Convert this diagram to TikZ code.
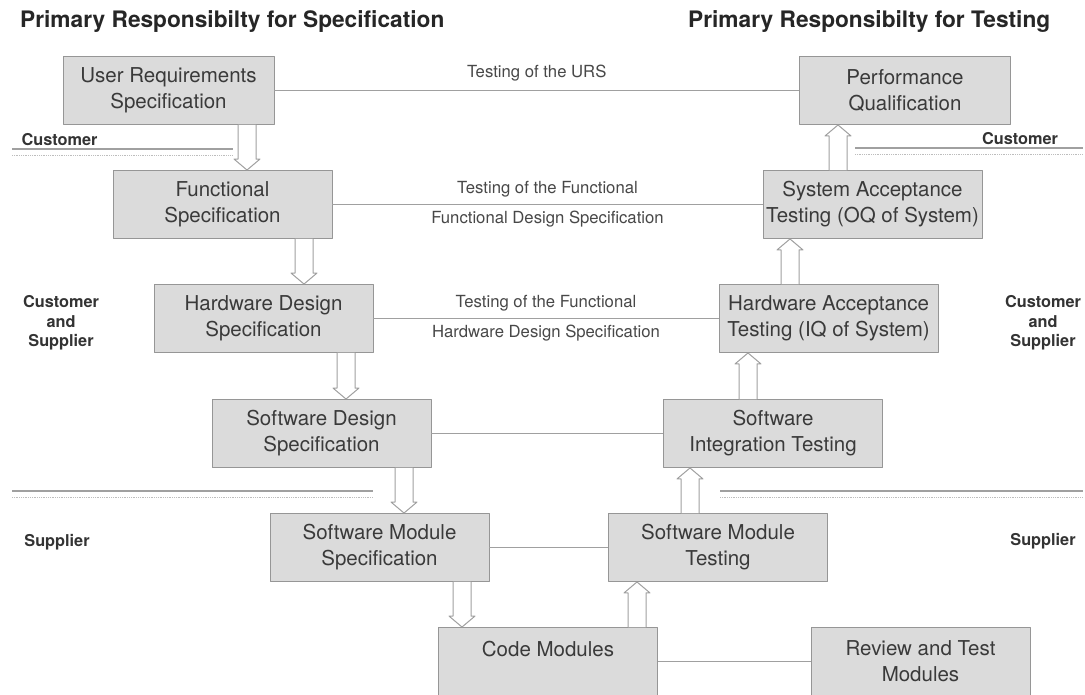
\documentclass[tikz,border=0pt]{standalone}
\usepackage{fontspec}
\setmainfont{TeX Gyre Heros}
\usetikzlibrary{calc}
\definecolor{boxfill}{RGB}{219,219,219}
\definecolor{boxline}{RGB}{150,150,150}
\definecolor{boxtext}{RGB}{58,58,58}
\definecolor{linegray}{RGB}{160,160,160}
\definecolor{lbltext}{RGB}{72,72,72}
% open double-shaft arrow: x position, base anchor, tip anchor
\newcommand{\hollowarrow}[3]{%
  \draw[hollow] let \p1=(#1,0 |- #2), \p2=(#1,0 |- #3), \n1={sign(\y1-\y2)*11} in
    (\x1-9pt,\y1) -- (\x1-9pt,{\y2+(\n1)*1pt}) -- (\x1-13pt,{\y2+(\n1)*1pt}) -- (\x2,\y2)
    -- (\x1+13pt,{\y2+(\n1)*1pt}) -- (\x1+9pt,{\y2+(\n1)*1pt}) -- (\x1+9pt,\y1);}
\begin{document}
\begin{tikzpicture}[x=1pt, y=-1pt, line join=round,
    box/.style={draw=boxline, line width=0.9pt, fill=boxfill, text=boxtext, align=center,
      minimum width=219pt, minimum height=68pt, inner sep=2pt, font=\fontsize{20.5}{26}\selectfont},
    conn/.style={draw=linegray, line width=1pt},
    hollow/.style={draw=linegray, line width=1pt, fill=white},
    lbl/.style={text=lbltext, font=\fontsize{16.7}{19}\selectfont},
    side/.style={text=black!80, align=center, inner sep=0pt, font=\bfseries\fontsize{16.3}{19.5}\selectfont},
    title/.style={anchor=west, inner sep=0pt, text=black!85, font=\bfseries\fontsize{22.7}{25}\selectfont},
    sep/.style={draw=linegray, line width=1.1pt}]
\path[use as bounding box, fill=white] (0,0) rectangle (1085,695);

% titles
\node[title] (ttlspec) at (20,22) {Primary Responsibilty for Specification};
\node[title] (ttltest) at (688,22) {Primary Responsibilty for Testing};

% specification side
\node[box, minimum width=211pt] (urs) at (168.5,90.5) {User Requirements\\Specification};
\node[box] (fs)  at (222.5,204.5) {Functional\\Specification};
\node[box] (hds) at (263.5,318.5) {Hardware Design\\Specification};
\node[box] (sds) at (321.5,433.5) {Software Design\\Specification};
\node[box] (sms) at (379.5,547.5) {Software Module\\Specification};
\node[box] (code) at (548,661.5) {Code Modules\\\mbox{}};

% testing side
\node[box, minimum width=211pt] (pq) at (905,90.5) {Performance\\Qualification};
\node[box] (sat) at (872.5,204.5) {System Acceptance\\Testing (OQ of System)};
\node[box] (hat) at (828.5,318.5) {Hardware Acceptance\\Testing (IQ of System)};
\node[box] (sit) at (773,433.5) {Software\\Integration Testing};
\node[box] (smt) at (718,547.5) {Software Module\\Testing};
\node[box] (review) at (920.5,661.5) {Review and Test\\Modules};

% responsibility bands
\node[side] (custl) at (59.5,140) {Customer};
\node[side] (custr) at (1020,139) {Customer};
\node[side] (cansl) at (61,323) {Customer\\and\\Supplier};
\node[side] (cansr) at (1043,323) {Customer\\and\\Supplier};
\node[side] (supl) at (57,542) {Supplier};
\node[side] (supr) at (1043,541) {Supplier};
\foreach \xa/\xb/\yy in {12/233/149, 855/1083/148, 12/373/491, 720/1083/491}{
  \draw[sep] (\xa,\yy) -- (\xb,\yy);
  \draw[sep, line width=0.8pt, densely dotted, draw=linegray!70] (\xa,\yy+6) -- (\xb,\yy+6);
}

% links between the two sides
\draw[conn] (urs) -- node[lbl, above=6pt] {Testing of the URS} (pq);
\draw[conn] (fs) -- node[lbl, above=4pt] {Testing of the Functional}
  node[lbl, below=3pt] {Functional Design Specification} (sat);
\draw[conn] (hds) -- node[lbl, above=4pt] {Testing of the Functional}
  node[lbl, below=3pt] {Hardware Design Specification} (hat);
\draw[conn] (sds) -- (sit);
\draw[conn] (sms) -- (smt);
\draw[conn] (code) -- (review);

% flow arrows
\foreach \xx/\a/\b in {247/urs.south/fs.north, 304/fs.south/hds.north, 346/hds.south/sds.north,
    404/sds.south/sms.north, 462/sms.south/code.north, 637/code.north/smt.south,
    690/smt.north/sit.south, 748/sit.north/hat.south, 790/hat.north/sat.south, 838/sat.north/pq.south}
  \hollowarrow{\xx}{\a}{\b};
\end{tikzpicture}
\end{document}
